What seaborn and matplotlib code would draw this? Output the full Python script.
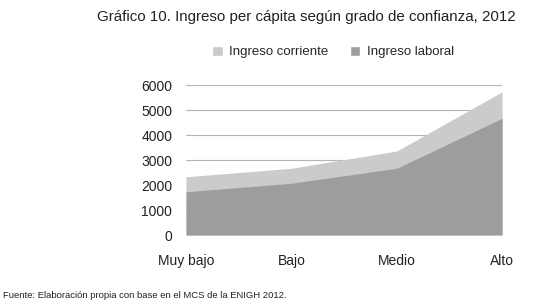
import seaborn as sns
import matplotlib.pyplot as plt
from matplotlib.patches import Patch

categorias = ["Muy bajo", "Bajo", "Medio", "Alto"]
ingreso_corriente = [2330, 2670, 3360, 5730]
ingreso_laboral = [1730, 2070, 2670, 4670]

sns.set_style("white")
plt.rcParams["font.family"] = ["Liberation Sans", "DejaVu Sans"]

fig = plt.figure(figsize=(5.33, 3.06), dpi=100)
ax = fig.add_axes([0.349, 0.232, 0.593, 0.490])

x = list(range(len(categorias)))
ax.fill_between(x, 0, ingreso_corriente, color="#cbcbcb", linewidth=0, zorder=2)
ax.fill_between(x, 0, ingreso_laboral, color="#9d9d9d", linewidth=0, zorder=3)

ax.set_xlim(0, len(categorias) - 1)
ax.set_ylim(0, 6000)
ax.set_yticks(range(0, 6001, 1000))
ax.set_xticks(x)
ax.set_xticklabels(categorias)
ax.tick_params(axis="both", length=0, labelsize=10, colors="#222222")
ax.tick_params(axis="y", pad=10)
ax.tick_params(axis="x", pad=14)
ax.yaxis.grid(True, color="#b5b5b5", linewidth=0.8)
ax.set_axisbelow(True)
sns.despine(ax=ax, left=True, bottom=True)

fig.text(0.967, 0.945, "Gráfico 10. Ingreso per cápita según grado de confianza, 2012",
         ha="right", va="center", fontsize=10.9, color="#222222")

handles = [Patch(facecolor="#cbcbcb", label="Ingreso corriente"),
           Patch(facecolor="#9d9d9d", label="Ingreso laboral")]
fig.legend(handles=handles, loc="center", bbox_to_anchor=(0.625, 0.83), ncol=2,
           frameon=False, fontsize=9.5, handlelength=0.8, handleheight=0.8,
           handletextpad=0.5, columnspacing=1.6)

fig.text(0.006, 0.033, "Fuente: Elaboración propia con base en el MCS de la ENIGH 2012.",
         ha="left", va="center", fontsize=6.8, color="#222222")

fig.savefig("out.png", dpi=100)
